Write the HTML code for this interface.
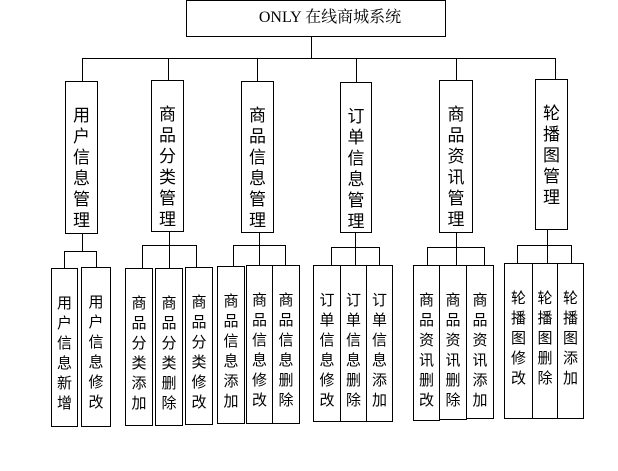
<!DOCTYPE html>
<html><head><meta charset="utf-8"><style>
body{margin:0;width:618px;height:471px;background:#fff;position:relative;overflow:hidden;font-family:"Liberation Sans","Noto Sans CJK SC",sans-serif;}
.b{position:absolute;box-sizing:border-box;border:1px solid #000;background:#fff;text-align:center;font-size:16px;line-height:21px;color:#000;}
.m{padding-top:23px;font-size:17px;}
.s{padding-top:25px;font-size:15px;line-height:20px;}
svg{position:absolute;left:0;top:0;}
</style></head><body>
<svg width="618" height="471" stroke="#000" stroke-width="1" fill="none">
<path d="M311.5 36V58M82.5 58.5H555.5M82.5 58V81M168.5 58V80M257.5 58V81M356.5 58V82M456.5 58V80M555.5 58V79"/>
<path d="M82.5 233V251M64.5 251.5H96.5M64.5 251V268M96.5 251V267"/>
<path d="M169.5 231V268M142.5 245.5H196.5M142.5 245V268M196.5 245V267"/>
<path d="M259.5 232V265M233.5 245.5H285.5M233.5 245V266M285.5 245V265"/>
<path d="M355.5 232V265M331.5 247.5H379.5M331.5 247V265M379.5 247V265"/>
<path d="M456.5 232V265M427.5 247.5H484.5M427.5 247V265M484.5 247V265"/>
<path d="M547.5 229V263M517.5 245.5H571.5M517.5 245V263M571.5 245V263"/>
</svg>
<div class="b" style="left:186px;top:0;width:260px;height:37px;line-height:34px;padding-left:28px;font-family:'Liberation Serif','Noto Serif CJK SC',serif;font-size:16px;">ONLY 在线商城系统</div>

<div class="b m" style="left:65px;top:81px;width:33px;height:153px;">用<br>户<br>信<br>息<br>管<br>理</div>
<div class="b m" style="left:151px;top:80px;width:33px;height:152px;">商<br>品<br>分<br>类<br>管<br>理</div>
<div class="b m" style="left:241px;top:81px;width:33px;height:152px;">商<br>品<br>信<br>息<br>管<br>理</div>
<div class="b m" style="left:340px;top:82px;width:32px;height:151px;">订<br>单<br>信<br>息<br>管<br>理</div>
<div class="b m" style="left:439px;top:80px;width:34px;height:153px;">商<br>品<br>资<br>讯<br>管<br>理</div>
<div class="b m" style="left:535px;top:79px;width:33px;height:151px;">轮<br>播<br>图<br>管<br>理</div>

<div class="b s" style="left:51px;top:268px;width:27px;height:159px;">用<br>户<br>信<br>息<br>新<br>增</div>
<div class="b s" style="left:81px;top:267px;width:30px;height:160px;">用<br>户<br>信<br>息<br>修<br>改</div>

<div class="b s" style="left:125px;top:268px;width:28px;height:158px;">商<br>品<br>分<br>类<br>添<br>加</div>
<div class="b s" style="left:155px;top:268px;width:28px;height:158px;">商<br>品<br>分<br>类<br>删<br>除</div>
<div class="b s" style="left:185px;top:267px;width:28px;height:158px;">商<br>品<br>分<br>类<br>修<br>改</div>

<div class="b s" style="left:217px;top:266px;width:28px;height:158px;">商<br>品<br>信<br>息<br>添<br>加</div>
<div class="b s" style="left:246px;top:265px;width:27px;height:159px;">商<br>品<br>信<br>息<br>修<br>改</div>
<div class="b s" style="left:272px;top:265px;width:28px;height:159px;">商<br>品<br>信<br>息<br>删<br>除</div>

<div class="b s" style="left:313px;top:265px;width:28px;height:157px;">订<br>单<br>信<br>息<br>修<br>改</div>
<div class="b s" style="left:340px;top:265px;width:27px;height:157px;">订<br>单<br>信<br>息<br>删<br>除</div>
<div class="b s" style="left:366px;top:265px;width:27px;height:157px;">订<br>单<br>信<br>息<br>添<br>加</div>

<div class="b s" style="left:413px;top:265px;width:27px;height:156px;">商<br>品<br>资<br>讯<br>删<br>改</div>
<div class="b s" style="left:439px;top:265px;width:28px;height:155px;">商<br>品<br>资<br>讯<br>删<br>除</div>
<div class="b s" style="left:466px;top:265px;width:28px;height:154px;">商<br>品<br>资<br>讯<br>添<br>加</div>

<div class="b s" style="left:504px;top:263px;width:29px;height:156px;">轮<br>播<br>图<br>修<br>改</div>
<div class="b s" style="left:532px;top:263px;width:26px;height:156px;">轮<br>播<br>图<br>删<br>除</div>
<div class="b s" style="left:557px;top:263px;width:27px;height:156px;">轮<br>播<br>图<br>添<br>加</div>
</body></html>
